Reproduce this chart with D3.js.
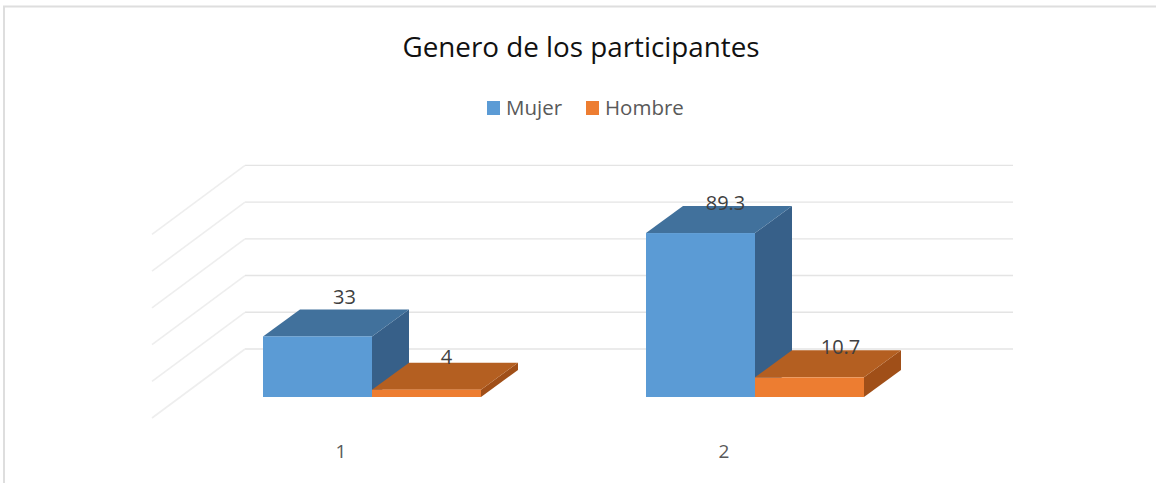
<!DOCTYPE html>
<html>
<head>
<meta charset="utf-8">
<script src="https://cdn.jsdelivr.net/npm/d3@7"></script>
<style>
body { margin: 0; background: #fff; font-family: "Open Sans", sans-serif; }
.grid line { stroke: #e4e4e4; stroke-width: 1.4; }
.grid line.wall { stroke: #eeeeee; stroke-width: 1.6; }
.label { fill: #404040; font-size: 20px; text-anchor: middle; }
</style>
</head>
<body>
<script>
var categories = ["1", "2"];
var seriesNames = ["Mujer", "Hombre"];
var mujer = [33, 89.3];
var hombre = [4, 10.7];
var gridTicks = [0, 20, 40, 60, 80, 100];

var width = 1156;
var height = 483;
var colors = {Mujer: ["#5b9bd5", "#41719c", "#376089"], Hombre: ["#ed7d31", "#b45f21", "#a04f18"]};

// fake 3d: every box has a front face and a depth offset
var depthX = 37;
var depthY = -27;
var floorY = 397;

var svg = d3.select("body")
    .append("svg")
    .attr("width", width)
    .attr("height", height);

svg.append("path")
    .attr("d", "M4,483V6.5H1156")
    .attr("fill", "none")
    .attr("stroke", "#dedede")
    .attr("stroke-width", 2);

svg.append("text")
    .attr("x", 581)
    .attr("y", 57)
    .attr("text-anchor", "middle")
    .attr("font-size", 27.8)
    .attr("fill", "#111")
    .text("Genero de los participantes");

var x0 = d3.scaleBand()
    .domain(categories)
    .range([263, 1029]);
var x1 = d3.scaleBand()
    .domain(seriesNames)
    .range([0, 218]);
var y = d3.scaleLinear()
    .domain([0, 100])
    .range([floorY, floorY - 183.6]);

// gridlines sit on the back wall, a bit above the bars' own back edge
var gridY = function(d) { return y(d) - 48; };
var gridLeft = 245, gridRight = 1013;
var wallX = -93, wallY = 69;

var grid = svg.append("g").attr("class", "grid");
grid.selectAll(".back")
    .data(gridTicks)
    .enter()
    .append("line")
    .attr("class", "back")
    .attr("x1", gridLeft)
    .attr("x2", gridRight)
    .attr("y1", gridY)
    .attr("y2", gridY);
grid.selectAll(".wall")
    .data(gridTicks)
    .enter()
    .append("line")
    .attr("class", "wall")
    .attr("x1", gridLeft)
    .attr("x2", gridLeft + wallX)
    .attr("y1", gridY)
    .attr("y2", function(d) { return gridY(d) + wallY; });

// legend
var legendX = [487, 586];
var legend = svg.selectAll(".legend")
    .data(seriesNames)
    .enter()
    .append("g")
    .attr("transform", function(d, i) { return "translate(" + legendX[i] + ",101)"; });
legend.append("rect")
    .attr("width", 13)
    .attr("height", 14)
    .attr("fill", function(d) { return colors[d][0]; });
legend.append("text")
    .attr("x", 19)
    .attr("y", 14)
    .attr("font-size", 20.5)
    .attr("fill", "#595959")
    .text(function(d) { return d; });

var bars = [];
categories.forEach(function(c, i) {
    bars.push({cat: c, name: "Mujer", value: mujer[i]});
    bars.push({cat: c, name: "Hombre", value: hombre[i]});
});

// hand nudges for the data labels, office places them a bit unevenly
var labelNudge = [[27, -12], [20, -6], [25, -3], [31, -3]];

var box = svg.selectAll(".box")
    .data(bars)
    .enter()
    .append("g")
    .attr("class", "box");

box.append("path")
    .attr("fill", function(d) { return colors[d.name][2]; })
    .attr("d", function(d) {
        var r = x0(d.cat) + x1(d.name) + x1.bandwidth(), t = y(d.value);
        return "M" + r + "," + t + "l" + depthX + "," + depthY + "V" + (floorY + depthY) + "L" + r + "," + floorY + "Z";
    });
box.append("path")
    .attr("fill", function(d) { return colors[d.name][1]; })
    .attr("d", function(d) {
        var l = x0(d.cat) + x1(d.name), t = y(d.value), w = x1.bandwidth();
        return "M" + l + "," + t + "l" + depthX + "," + depthY + "h" + w + "l" + (-depthX) + "," + (-depthY) + "Z";
    });
box.append("rect")
    .attr("fill", function(d) { return colors[d.name][0]; })
    .attr("x", function(d) { return x0(d.cat) + x1(d.name); })
    .attr("y", function(d) { return y(d.value); })
    .attr("width", x1.bandwidth())
    .attr("height", function(d) { return floorY - y(d.value); });

svg.selectAll(".label")
    .data(bars)
    .enter()
    .append("text")
    .attr("class", "label")
    .attr("x", function(d, i) { return x0(d.cat) + x1(d.name) + x1.bandwidth() / 2 + labelNudge[i][0]; })
    .attr("y", function(d, i) { return y(d.value) + depthY + labelNudge[i][1] + 7; })
    .text(function(d) { return d.value; });

svg.selectAll(".cat")
    .data(categories)
    .enter()
    .append("text")
    .attr("class", "cat")
    .attr("x", function(d) { return x0(d) + 78; })
    .attr("y", 458)
    .attr("text-anchor", "middle")
    .attr("font-size", 19)
    .attr("fill", "#595959")
    .text(function(d) { return d; });
</script>
</body>
</html>
